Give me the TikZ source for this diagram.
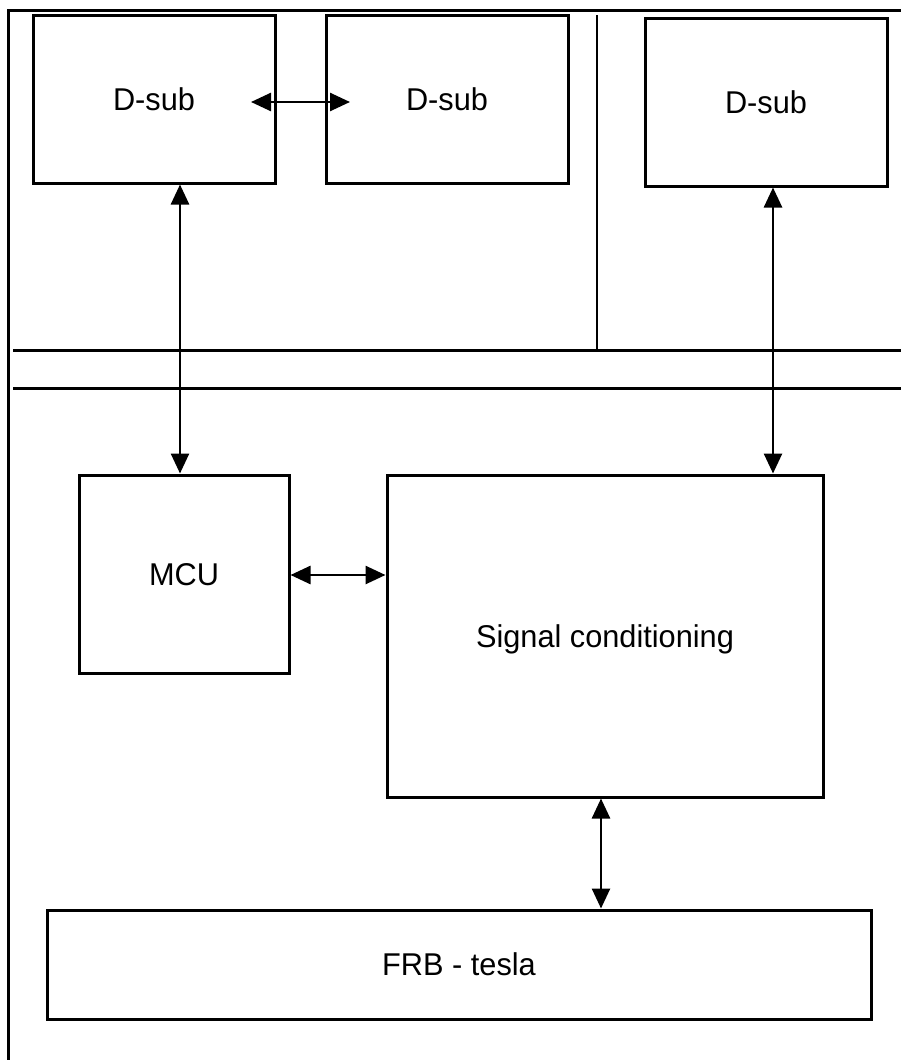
\documentclass[tikz,border=0pt]{standalone}
\usepackage{fontspec}
\setmainfont{Liberation Sans}
\newfontfamily\lblfont[FakeStretch=0.975]{Liberation Sans}
\usetikzlibrary{arrows.meta}
\begin{document}
\begin{tikzpicture}[x=1pt,y=-1pt,
  blk/.style={draw=black,line width=3pt,fill=white,inner sep=0pt,
    text height=22.6pt,text depth=0pt,
    font=\lblfont\fontsize{31.5}{37}\selectfont},
  rule/.style={line width=3pt},
  link/.style={line width=2.6pt,{Triangle[length=20pt,width=18pt]}-{Triangle[length=20pt,width=18pt]}}]
\useasboundingbox (0,0) rectangle (901,1060);
% enclosure outline and partitions
\draw[rule] (8,1062) -- (8,10) -- (903,10);
\draw[rule] (13,350) -- (903,350);
\draw[rule] (13,388) -- (903,388);
\draw[line width=2.6pt] (597,15) -- (597,350);
% connector boards
\node[blk,minimum width=242pt,minimum height=168pt] (ds1) at (154,99) {D-sub};
\node[blk,minimum width=242pt,minimum height=168pt] (ds2) at (447,99) {D-sub};
\node[blk,minimum width=242pt,minimum height=168pt] (ds3) at (766,102) {D-sub};
% main board
\node[blk,minimum width=210pt,minimum height=198pt] (mcu) at (184,574) {MCU};
\node[blk,minimum width=436pt,minimum height=322pt] (sig) at (605,636) {Signal conditioning};
\node[blk,minimum width=824pt,minimum height=109pt] (frb) at (459,964.5) {FRB - tesla};
% links
\coordinate (l1) at (251,102);
\coordinate (l2) at (350,102);
\draw[link] (l1) -- (l2);
\draw[link] (ds1.south -| 180,0) -- (mcu.north -| 180,0);
\draw[link] (ds3.south -| 773,0) -- (sig.north -| 773,0);
\draw[link] (mcu.east |- 0,575) -- (sig.west |- 0,575);
\draw[link] (sig.south -| 601,0) -- (frb.north -| 601,0);
\end{tikzpicture}
\end{document}
